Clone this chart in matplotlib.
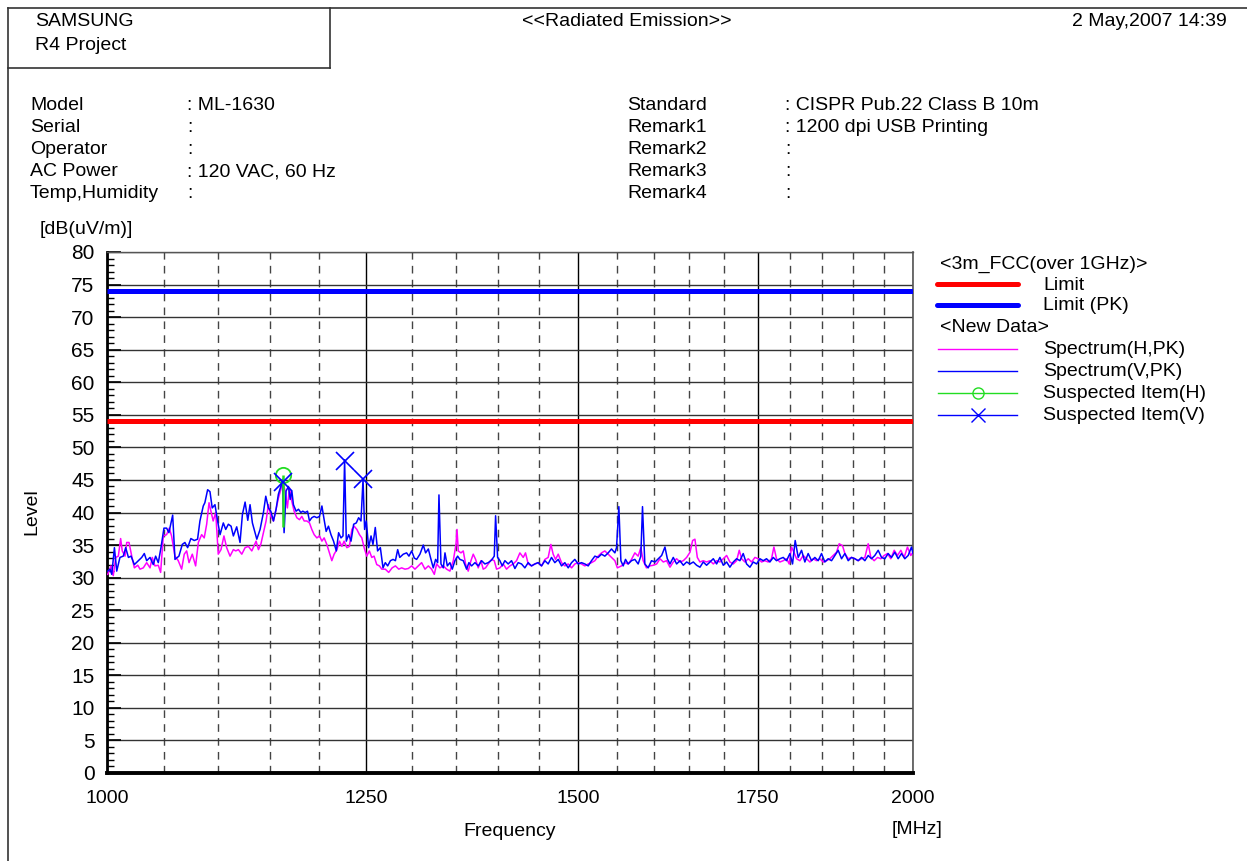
import matplotlib
matplotlib.use("Agg")
import matplotlib.pyplot as plt
from matplotlib.ticker import FixedLocator, FixedFormatter, NullFormatter, MultipleLocator

plt.rcParams['font.family'] = ['Liberation Sans', 'DejaVu Sans']

# ---------------- data ----------------
freq_h = [1000.6, 1003.4, 1005.4, 1007.5, 1009.8, 1011.8, 1013.2, 1015.6, 1017.1, 1019.1,
          1021.5, 1023.8, 1026.8, 1028.8, 1031.7, 1034.7, 1037.7, 1039.7, 1042.1, 1045.1,
          1047.2, 1049.6, 1052.6, 1055.0, 1057.1, 1060.2, 1063.2, 1066.3, 1068.7, 1070.9,
          1073.1, 1076.1, 1079.2, 1081.7, 1084.8, 1087.2, 1089.5, 1091.7, 1093.5, 1095.6,
          1098.0, 1100.4, 1103.0, 1105.8, 1108.4, 1111.6, 1114.8, 1117.1, 1119.6, 1122.9,
          1126.1, 1129.3, 1132.6, 1136.8, 1139.1, 1141.4, 1144.0, 1146.6, 1148.9, 1151.3,
          1153.9, 1156.5, 1158.8, 1161.2, 1163.2, 1165.5, 1167.8, 1169.9, 1172.3, 1174.6,
          1177.3, 1180.0, 1182.4, 1184.8, 1187.5, 1190.2, 1192.6, 1195.0, 1197.8, 1200.5,
          1203.0, 1205.3, 1208.1, 1210.8, 1213.3, 1215.7, 1218.6, 1221.3, 1223.8, 1226.2,
          1229.1, 1231.8, 1234.4, 1236.8, 1239.7, 1242.5, 1245.0, 1247.5, 1250.3, 1253.1,
          1255.7, 1258.2, 1261.1, 1264.0, 1266.6, 1270.4, 1274.1, 1277.9, 1281.5, 1285.2,
          1288.4, 1292.1, 1295.8, 1299.5, 1303.2, 1307.0, 1310.7, 1314.5, 1318.3, 1322.0,
          1325.1, 1327.7, 1331.5, 1335.4, 1339.2, 1343.0, 1346.9, 1350.0, 1351.2, 1352.7,
          1355.8, 1358.5, 1361.2, 1364.3, 1367.5, 1370.2, 1373.0, 1376.1, 1379.3, 1382.0,
          1384.8, 1388.0, 1392.0, 1395.2, 1398.0, 1402.0, 1406.0, 1410.0, 1414.1, 1418.1,
          1422.2, 1426.3, 1430.4, 1433.2, 1436.5, 1440.6, 1444.8, 1448.9, 1453.1, 1457.3,
          1461.4, 1464.8, 1467.7, 1470.7, 1474.1, 1478.3, 1482.5, 1486.8, 1491.1, 1495.3,
          1499.6, 1503.9, 1508.2, 1512.6, 1516.9, 1521.3, 1525.6, 1530.0, 1534.4, 1538.8,
          1543.2, 1547.7, 1551.0, 1556.5, 1561.0, 1565.5, 1570.0, 1574.5, 1579.0, 1582.6,
          1585.8, 1590.3, 1594.9, 1599.7, 1604.3, 1608.9, 1613.5, 1618.1, 1622.8, 1627.4,
          1632.1, 1636.8, 1641.5, 1646.2, 1651.0, 1654.7, 1658.0, 1661.4, 1665.2, 1669.9,
          1674.7, 1679.5, 1684.4, 1689.2, 1694.0, 1698.9, 1703.8, 1708.6, 1713.6, 1718.5,
          1722.4, 1725.9, 1730.8, 1735.8, 1740.8, 1745.8, 1750.8, 1755.8, 1760.8, 1765.9,
          1770.9, 1774.5, 1778.5, 1783.7, 1788.8, 1793.9, 1798.0, 1801.6, 1805.3, 1809.4,
          1814.6, 1819.8, 1825.0, 1830.3, 1835.5, 1840.8, 1846.1, 1851.4, 1856.7, 1862.0,
          1867.3, 1872.7, 1877.0, 1882.4, 1886.2, 1891.6, 1897.0, 1902.5, 1907.9, 1913.4,
          1918.9, 1924.4, 1928.8, 1934.3, 1939.9, 1945.4, 1951.0, 1956.6, 1962.2, 1967.9,
          1973.5, 1979.2, 1984.8, 1990.5, 1996.2, 2000.0]
level_h = [30.5, 31.8, 30.3, 33.1, 33.3, 36.0, 34.1, 33.3, 35.4, 35.4,
           33.3, 31.5, 31.9, 31.3, 31.5, 32.3, 31.5, 33.1, 31.8, 31.9,
           30.8, 36.4, 36.6, 37.6, 36.4, 33.3, 32.6, 31.3, 33.6, 34.1,
           32.3, 33.6, 31.8, 35.4, 36.6, 36.1, 38.2, 41.5, 40.2, 38.7,
           40.0, 33.6, 34.3, 36.4, 34.6, 33.3, 34.3, 34.1, 34.3, 33.6,
           34.6, 34.8, 34.1, 35.6, 34.3, 35.1, 36.9, 38.7, 41.2, 39.4,
           38.7, 40.5, 42.2, 43.5, 44.8, 43.3, 40.7, 43.8, 41.7, 40.2,
           39.2, 38.9, 39.4, 38.7, 38.7, 38.4, 37.4, 36.6, 36.1, 36.4,
           35.6, 36.1, 35.1, 33.8, 32.6, 33.6, 34.3, 35.6, 34.8, 35.6,
           34.6, 34.8, 37.4, 37.9, 37.4, 36.6, 36.1, 34.6, 33.3, 34.1,
           33.1, 33.3, 32.0, 31.8, 31.3, 31.3, 30.8, 31.5, 31.8, 31.3,
           31.5, 31.3, 31.4, 31.8, 31.3, 31.8, 32.3, 31.3, 31.8, 31.3,
           30.5, 32.1, 31.5, 31.8, 31.3, 31.0, 32.6, 35.1, 37.4, 34.1,
           33.8, 34.1, 32.1, 31.0, 32.6, 33.6, 32.8, 31.5, 32.6, 31.3,
           31.5, 32.1, 32.8, 32.6, 31.3, 31.5, 32.1, 31.3, 31.8, 32.1,
           32.6, 33.8, 33.1, 33.8, 32.1, 31.8, 32.1, 32.3, 31.8, 32.8,
           33.1, 35.1, 33.6, 32.8, 33.6, 32.3, 31.8, 32.1, 31.5, 32.1,
           32.3, 32.1, 31.8, 32.1, 32.3, 32.6, 33.3, 33.8, 34.1, 33.6,
           33.1, 32.6, 31.5, 31.8, 32.3, 32.1, 32.8, 33.8, 33.3, 34.6,
           32.6, 31.5, 31.8, 31.9, 32.1, 32.9, 32.4, 32.6, 31.6, 32.4,
           32.9, 32.4, 32.6, 33.1, 33.9, 35.7, 35.9, 33.1, 32.4, 32.6,
           32.4, 32.6, 32.1, 32.6, 32.4, 32.9, 33.4, 32.4, 32.1, 32.6,
           34.2, 32.9, 32.4, 32.9, 32.4, 33.1, 32.9, 32.4, 32.6, 32.4,
           32.9, 34.7, 32.9, 32.4, 32.6, 32.9, 32.1, 34.7, 33.9, 32.9,
           32.6, 33.4, 32.9, 32.4, 32.9, 32.6, 32.9, 32.4, 32.6, 32.9,
           33.4, 33.9, 35.2, 34.9, 33.7, 32.9, 33.1, 32.9, 32.6, 32.9,
           33.1, 35.2, 33.1, 32.6, 33.1, 32.9, 33.4, 33.7, 32.9, 34.2,
           33.4, 34.2, 33.1, 34.7, 33.4, 33.9]

freq_v = [1000.6, 1002.6, 1004.1, 1006.4, 1008.4, 1011.2, 1014.1, 1016.2, 1018.6, 1020.9,
          1023.8, 1027.3, 1030.3, 1032.6, 1034.7, 1037.7, 1040.6, 1042.7, 1045.1, 1047.5,
          1050.2, 1052.6, 1054.7, 1058.1, 1060.2, 1063.8, 1066.9, 1069.3, 1071.8, 1074.8,
          1077.9, 1081.0, 1083.2, 1086.3, 1087.8, 1090.4, 1092.6, 1094.7, 1097.3, 1099.8,
          1102.1, 1105.2, 1107.5, 1110.0, 1112.6, 1114.8, 1118.0, 1121.2, 1123.5, 1126.1,
          1128.7, 1130.9, 1133.2, 1137.5, 1140.7, 1144.0, 1146.3, 1148.9, 1151.3, 1153.9,
          1156.5, 1158.8, 1161.2, 1162.8, 1164.5, 1166.5, 1168.9, 1170.6, 1172.3, 1173.9,
          1176.6, 1179.0, 1181.4, 1183.4, 1185.8, 1188.2, 1190.2, 1192.6, 1195.0, 1197.8,
          1200.5, 1203.0, 1205.3, 1207.4, 1209.8, 1212.4, 1215.1, 1218.0, 1220.4, 1222.9,
          1225.0, 1226.7, 1228.5, 1231.0, 1233.5, 1236.3, 1239.1, 1241.6, 1244.1, 1246.3,
          1248.0, 1249.8, 1252.3, 1254.9, 1257.0, 1259.5, 1262.0, 1265.0, 1267.9, 1270.4,
          1273.0, 1276.0, 1278.9, 1281.5, 1284.0, 1286.3, 1290.2, 1293.9, 1296.5, 1299.5,
          1302.5, 1305.1, 1308.8, 1312.6, 1315.2, 1318.3, 1321.3, 1323.9, 1326.6, 1328.9,
          1330.4, 1332.7, 1335.4, 1337.3, 1340.0, 1343.0, 1345.7, 1348.8, 1351.9, 1354.6,
          1358.5, 1362.4, 1365.1, 1368.3, 1372.2, 1376.1, 1380.1, 1384.0, 1388.0, 1392.0,
          1395.2, 1396.8, 1399.2, 1402.0, 1404.8, 1408.0, 1412.0, 1416.1, 1420.2, 1424.2,
          1428.3, 1432.4, 1436.5, 1440.6, 1444.8, 1448.9, 1453.1, 1457.3, 1461.4, 1465.6,
          1469.8, 1474.1, 1478.3, 1482.5, 1486.8, 1491.1, 1495.3, 1499.6, 1503.9, 1508.2,
          1512.6, 1516.9, 1521.3, 1525.6, 1530.0, 1534.4, 1538.8, 1543.2, 1547.7, 1549.9,
          1553.0, 1555.7, 1558.8, 1561.9, 1565.5, 1570.0, 1574.5, 1579.0, 1582.6, 1584.9,
          1588.1, 1592.6, 1597.2, 1602.0, 1606.6, 1611.2, 1615.8, 1619.1, 1622.8, 1627.4,
          1632.1, 1636.8, 1641.5, 1646.2, 1651.0, 1655.7, 1660.4, 1665.2, 1669.9, 1674.7,
          1679.5, 1684.4, 1689.2, 1694.0, 1698.9, 1703.8, 1708.6, 1713.6, 1718.5, 1723.4,
          1728.3, 1733.3, 1738.3, 1743.3, 1748.3, 1753.3, 1758.3, 1763.3, 1768.4, 1773.5,
          1778.5, 1783.7, 1788.8, 1793.9, 1799.1, 1803.2, 1807.3, 1812.0, 1817.2, 1822.4,
          1827.6, 1832.9, 1838.1, 1843.4, 1848.7, 1854.0, 1859.3, 1864.7, 1870.0, 1875.4,
          1880.8, 1886.2, 1891.6, 1897.0, 1902.5, 1907.9, 1913.4, 1918.9, 1924.4, 1929.9,
          1935.4, 1941.0, 1946.6, 1952.1, 1957.7, 1963.4, 1969.0, 1974.6, 1980.3, 1986.0,
          1991.7, 1997.4, 2000.0]
level_v = [31.0, 31.3, 30.5, 34.6, 31.0, 33.1, 33.3, 34.6, 33.1, 33.3,
           32.0, 32.6, 33.1, 33.7, 32.6, 33.1, 32.0, 33.3, 32.3, 34.6,
           37.6, 37.6, 36.9, 39.6, 32.8, 33.3, 35.1, 35.4, 34.6, 36.0,
           35.7, 35.9, 38.7, 41.0, 41.5, 43.5, 43.2, 40.7, 41.2, 38.7,
           36.6, 38.4, 37.4, 38.2, 37.9, 36.4, 37.8, 35.4, 39.7, 41.6,
           38.8, 41.2, 38.4, 35.9, 37.4, 40.0, 42.5, 40.7, 40.2, 38.7,
           40.5, 42.8, 44.0, 45.1, 36.9, 43.3, 44.0, 42.0, 43.3, 41.2,
           40.2, 40.5, 40.0, 40.2, 40.0, 40.2, 38.7, 39.2, 39.4, 39.2,
           39.4, 41.0, 38.9, 37.1, 37.9, 36.6, 35.6, 34.1, 36.9, 36.1,
           36.4, 48.1, 35.6, 36.6, 35.6, 38.2, 38.4, 39.2, 38.7, 45.1,
           37.4, 38.7, 34.6, 36.4, 35.1, 37.7, 34.1, 34.6, 31.5, 32.3,
           31.8, 32.6, 32.8, 32.6, 34.3, 33.1, 33.6, 33.8, 33.3, 34.1,
           33.0, 32.8, 33.6, 35.0, 33.8, 34.4, 32.8, 31.5, 32.8, 32.3,
           42.7, 32.1, 31.5, 33.8, 31.8, 32.3, 31.3, 32.6, 33.3, 32.8,
           32.6, 31.3, 32.3, 31.8, 32.3, 31.8, 32.6, 32.1, 32.3, 32.7,
           33.3, 39.5, 33.1, 32.6, 31.8, 32.6, 32.1, 32.6, 31.4, 32.3,
           32.1, 31.5, 32.3, 31.8, 32.1, 32.3, 31.8, 32.6, 32.1, 33.1,
           32.3, 32.8, 31.8, 32.3, 31.5, 32.3, 32.8, 32.1, 32.3, 32.1,
           31.8, 32.6, 33.3, 33.1, 33.6, 33.3, 33.8, 34.4, 33.8, 34.6,
           40.9, 32.6, 31.8, 32.8, 32.1, 32.6, 32.8, 32.1, 33.3, 40.9,
           32.1, 31.5, 32.6, 32.4, 32.9, 33.4, 34.7, 32.9, 32.1, 33.1,
           32.1, 32.6, 31.9, 32.4, 32.1, 32.4, 31.9, 31.6, 32.4, 31.9,
           32.4, 32.9, 32.1, 33.1, 31.9, 32.4, 31.6, 32.4, 32.9, 32.6,
           33.7, 32.1, 31.6, 32.4, 32.1, 32.9, 32.6, 32.9, 32.4, 33.1,
           32.6, 32.9, 33.1, 32.6, 33.7, 32.1, 35.7, 33.1, 34.2, 32.4,
           33.7, 32.6, 33.1, 32.6, 33.7, 32.4, 32.9, 32.6, 33.4, 34.2,
           32.9, 33.7, 32.6, 33.1, 32.9, 32.6, 33.1, 32.6, 33.4, 32.9,
           33.4, 34.2, 33.1, 32.9, 33.7, 33.1, 33.9, 32.9, 33.7, 32.9,
           33.4, 34.7, 33.7]

limit_freq = [1000, 2000]
limit_level = [54, 54]
limit_pk_level = [74, 74]

susp_h_freq = [1163.2]
susp_h_level = [45.7]
susp_h_base = [37.7]
susp_v_freq = [1163.6, 1226.7, 1246.3]
susp_v_level = [44.7, 47.9, 45.1]

x_major = [1000, 1250, 1500, 1750, 2000]
x_major_labels = ['1000', '1250', '1500', '1750', '2000']
x_minor = [1050, 1100, 1150, 1200, 1300, 1350, 1400, 1450, 1550, 1600,
           1650, 1700, 1800, 1850, 1900, 1950]
y_major = list(range(0, 81, 5))

info_left = [("Model", ": ML-1630"), ("Serial", ":"), ("Operator", ":"),
             ("AC Power", ": 120 VAC, 60 Hz"), ("Temp,Humidity", ":")]
info_right = [("Standard", ": CISPR Pub.22 Class B 10m"), ("Remark1", ": 1200 dpi USB Printing"),
              ("Remark2", ":"), ("Remark3", ":"), ("Remark4", ":")]

# ---------------- figure ----------------
W, H = 1247, 861
fig = plt.figure(figsize=(W / 100, H / 100), dpi=100)
fig.patch.set_facecolor('white')

bg = fig.add_axes([0, 0, 1, 1], zorder=0)
bg.set_xlim(0, W)
bg.set_ylim(H, 0)
bg.axis('off')

ax = fig.add_axes([107 / W, 1 - 773 / H, 806 / W, 521 / H], zorder=1)

RED = '#ff0000'
BLUE = '#0000ff'
MAG = '#ff00ff'
GREEN = '#22dd22'

# limits
ax.plot(limit_freq, limit_level, color=RED, lw=3.6, solid_capstyle='butt', zorder=3)
ax.plot(limit_freq, limit_pk_level, color=BLUE, lw=3.6, solid_capstyle='butt', zorder=3)
# spectra
ax.plot(freq_h, level_h, color=MAG, lw=1.1, zorder=4)
ax.plot(freq_v, level_v, color=BLUE, lw=1.1, zorder=5)
# suspected items
ax.vlines(susp_h_freq, susp_h_base, susp_h_level, color=GREEN, lw=1.8, zorder=6)
ax.plot(susp_h_freq, susp_h_level, linestyle='none', marker='o', ms=11, mfc='none',
        mec=GREEN, mew=1.3, zorder=7)
ax.plot(susp_v_freq, susp_v_level, linestyle='none', marker='x', ms=13,
        mec=BLUE, mew=1.2, zorder=7)

ax.set_xscale('log')
ax.set_xlim(1000, 2000)
ax.set_ylim(0, 80)
ax.xaxis.set_major_locator(FixedLocator(x_major))
ax.xaxis.set_major_formatter(FixedFormatter(x_major_labels))
ax.xaxis.set_minor_locator(FixedLocator(x_minor))
ax.xaxis.set_minor_formatter(NullFormatter())
ax.yaxis.set_major_locator(FixedLocator(y_major))
ax.yaxis.set_minor_locator(MultipleLocator(1))

ax.tick_params(axis='x', which='both', length=0, pad=12, labelsize=14)
ax.tick_params(axis='y', which='major', direction='in', length=10, width=1.2,
               labelsize=15, pad=9)
ax.tick_params(axis='y', which='minor', direction='in', length=5, width=1.0)

ax.grid(axis='x', which='major', color='black', lw=1.0)
ax.grid(axis='x', which='minor', color='#444444', lw=1.0, linestyle=(0, (5.5, 4.5)))
ax.grid(axis='y', which='major', color='#333333', lw=1.0)
ax.set_axisbelow(True)

ax.spines['left'].set_linewidth(2.0)
ax.spines['bottom'].set_linewidth(2.8)
ax.spines['top'].set_linewidth(1.0)
ax.spines['top'].set_color('#555555')
ax.spines['right'].set_linewidth(1.2)
ax.spines['right'].set_color('#555555')

# ---------------- page frame & header ----------------
frame_kw = dict(color='#333333', lw=1.2)
bg.plot([8, W], [8, 8], **frame_kw)
bg.plot([8, 8], [8, H], **frame_kw)
bg.plot([330, 330], [8, 68], **frame_kw)
bg.plot([8, 330], [68, 68], **frame_kw)

fs = 14
bg.text(35, 22, "SAMSUNG", fontsize=fs, va='center', ha='left')
bg.text(35, 46, "R4 Project", fontsize=fs, va='center', ha='left')
bg.text(627, 22, "<<Radiated Emission>>", fontsize=fs, va='center', ha='center')
bg.text(1227, 22, "2 May,2007 14:39", fontsize=fs, va='center', ha='right')

row_y = [106, 128, 150, 172, 194]
for (lab, val), yy in zip(info_left, row_y):
    bg.text(30, yy, lab, fontsize=fs, va='center', ha='left')
    bg.text(187, yy, val, fontsize=fs, va='center', ha='left')
for (lab, val), yy in zip(info_right, row_y):
    bg.text(627, yy, lab, fontsize=fs, va='center', ha='left')
    bg.text(785, yy, val, fontsize=fs, va='center', ha='left')

bg.text(40, 230, "[dB(uV/m)]", fontsize=fs, va='center', ha='left')
bg.text(32, 512, "Level", fontsize=fs, va='center', ha='center', rotation=90)
bg.text(510, 831, "Frequency", fontsize=fs, va='center', ha='center')
bg.text(917, 830, "[MHz]", fontsize=fs, va='center', ha='center')

# ---------------- legend ----------------
lx0, lx1, ltx = 937, 1018, 1043
bg.text(940, 264, "<3m_FCC(over 1GHz)>", fontsize=fs, va='center', ha='left')
bg.plot([lx0, lx1], [284, 284], color=RED, lw=3.6, solid_capstyle='round')
bg.text(ltx, 285, "Limit", fontsize=fs, va='center', ha='left')
bg.plot([lx0, lx1], [305, 305], color=BLUE, lw=3.6, solid_capstyle='round')
bg.text(ltx, 305, "Limit (PK)", fontsize=fs, va='center', ha='left')
bg.text(940, 328, "<New Data>", fontsize=fs, va='center', ha='left')
bg.plot([lx0 + 1, lx1 - 1], [349, 349], color=MAG, lw=1.0)
bg.text(ltx, 350, "Spectrum(H,PK)", fontsize=fs, va='center', ha='left')
bg.plot([lx0 + 1, lx1 - 1], [371, 371], color=BLUE, lw=1.0)
bg.text(ltx, 372, "Spectrum(V,PK)", fontsize=fs, va='center', ha='left')
bg.plot([lx0 + 1, lx1 - 1], [393, 393], color=GREEN, lw=1.0)
bg.plot([978], [393], marker='o', ms=8, mfc='none', mec=GREEN, mew=1.0)
bg.text(ltx, 394, "Suspected Item(H)", fontsize=fs, va='center', ha='left')
bg.plot([lx0 + 1, lx1 - 1], [415, 415], color=BLUE, lw=1.0)
bg.plot([978], [415], marker='x', ms=10, mec=BLUE, mew=1.0)
bg.text(ltx, 416, "Suspected Item(V)", fontsize=fs, va='center', ha='left')

fig.savefig("out.png", dpi=100)
